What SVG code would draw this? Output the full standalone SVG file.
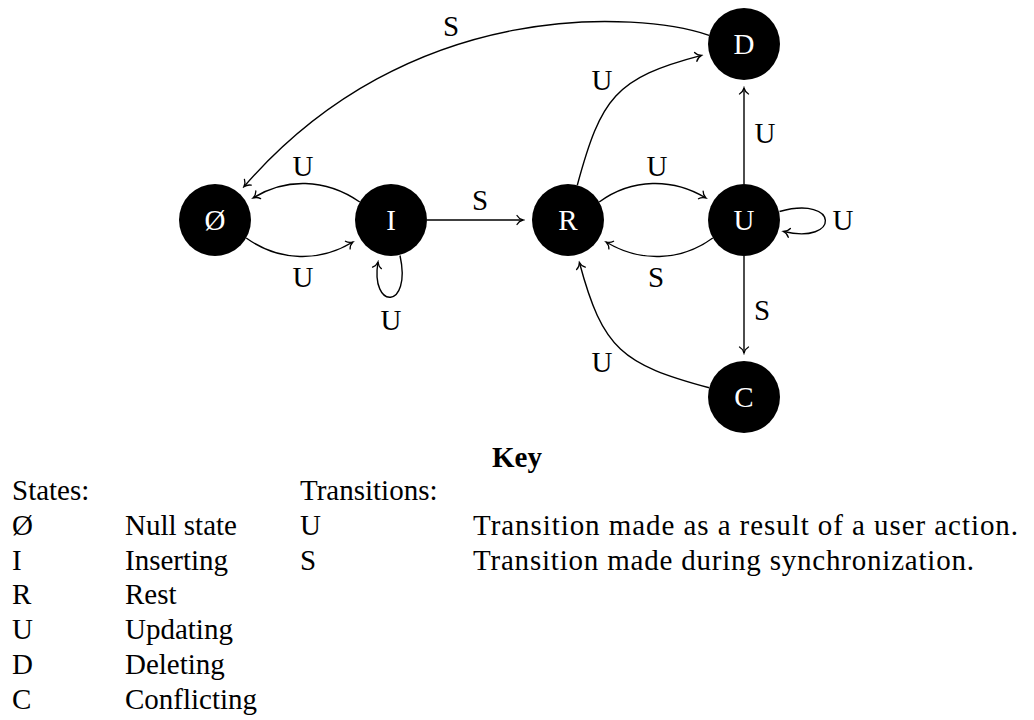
<svg xmlns="http://www.w3.org/2000/svg" width="1034" height="720" viewBox="0 0 1034 720">
  <style>
    text { font-family: "Liberation Serif", "Times New Roman", Times, "DejaVu Serif", serif; font-size: 29px; }
    .node { fill: #000; }
    .nlab { fill: #fff; text-anchor: middle; }
    .elab { fill: #000; text-anchor: middle; }
    .edge { fill: none; stroke: #000; stroke-width: 1.4; marker-end: url(#arr); }
    .leg { fill: #000; }
    .key { fill: #000; font-weight: bold; text-anchor: middle; }
  </style>
  <defs>
    <marker id="arr" markerUnits="userSpaceOnUse" viewBox="-8 -6 10 12" markerWidth="10" markerHeight="12" refX="0" refY="0" orient="auto">
      <path d="M -6,-4.5 C -4.5,-1.8 -1.5,-0.4 0,0 C -1.5,0.4 -4.5,1.8 -6,4.5" fill="none" stroke="#000" stroke-width="1.3" stroke-linecap="round"/>
    </marker>
  </defs>
  <rect width="1034" height="720" fill="#fff"/>

  <g id="connectors">
    <path class="edge" d="M 246.2,238 C 280,262 320,262 352.9,242"/>
    <path class="edge" d="M 359.8,202 C 325,178 285,178 253.1,198"/>
    <path class="edge" d="M 400,255.5 C 412,310 370,310 378,262"/>
    <path class="edge" d="M 427,220 L 523,220"/>
    <path class="edge" d="M 599.2,202 C 632,178 673,178 705.9,198"/>
    <path class="edge" d="M 712.8,238 C 680,262 639,262 606.1,242"/>
    <path class="edge" d="M 577.3,185.2 C 601,98 615,78 701.5,55.4"/>
    <path class="edge" d="M 709.2,387.7 C 622.3,364.4 602.7,349.4 579.4,262.5"/>
    <path class="edge" d="M 744,184 L 744,88"/>
    <path class="edge" d="M 744,256 L 744,353"/>
    <path class="edge" d="M 779.5,211.5 C 840,195 840,245 783.5,231.5"/>
    <path class="edge" d="M 709.1,35.3 C 640,12 410,-5 243.9,186.8"/>
    <text class="elab" x="303" y="176">U</text>
    <text class="elab" x="303" y="287">U</text>
    <text class="elab" x="391" y="330">U</text>
    <text class="elab" x="480" y="210">S</text>
    <text class="elab" x="451" y="36">S</text>
    <text class="elab" x="602" y="90">U</text>
    <text class="elab" x="657" y="176">U</text>
    <text class="elab" x="765" y="143">U</text>
    <text class="elab" x="656" y="287">S</text>
    <text class="elab" x="762" y="320">S</text>
    <text class="elab" x="602" y="372">U</text>
    <text class="elab" x="843" y="230">U</text>
  </g>

  <g id="node-null"><circle class="node" cx="215" cy="220" r="36"/><text class="nlab" x="215" y="230">Ø</text></g>
  <g id="node-I"><circle class="node" cx="391" cy="220" r="36"/><text class="nlab" x="391" y="230">I</text></g>
  <g id="node-R"><circle class="node" cx="568" cy="220" r="36"/><text class="nlab" x="568" y="230">R</text></g>
  <g id="node-U"><circle class="node" cx="744" cy="220" r="36"/><text class="nlab" x="744" y="230">U</text></g>
  <g id="node-D"><circle class="node" cx="744" cy="44" r="36"/><text class="nlab" x="744" y="54">D</text></g>
  <g id="node-C"><circle class="node" cx="744" cy="397" r="36"/><text class="nlab" x="744" y="407">C</text></g>

  <g id="key">
    <text class="key" x="517" y="467">Key</text>
    <text class="leg" x="12" y="500">States:</text>
    <text class="leg" x="300" y="500">Transitions:</text>
    <text class="leg" x="12" y="535">Ø</text>
    <text class="leg" x="125" y="535">Null state</text>
    <text class="leg" x="300" y="535">U</text>
    <text class="leg" x="473" y="535" textLength="545" lengthAdjust="spacing">Transition made as a result of a user action.</text>
    <text class="leg" x="12" y="570">I</text>
    <text class="leg" x="125" y="570">Inserting</text>
    <text class="leg" x="300" y="570">S</text>
    <text class="leg" x="473" y="570" textLength="501" lengthAdjust="spacing">Transition made during synchronization.</text>
    <text class="leg" x="12" y="604">R</text>
    <text class="leg" x="125" y="604">Rest</text>
    <text class="leg" x="12" y="639">U</text>
    <text class="leg" x="125" y="639">Updating</text>
    <text class="leg" x="12" y="674">D</text>
    <text class="leg" x="125" y="674">Deleting</text>
    <text class="leg" x="12" y="709">C</text>
    <text class="leg" x="125" y="709">Conflicting</text>
  </g>
</svg>
